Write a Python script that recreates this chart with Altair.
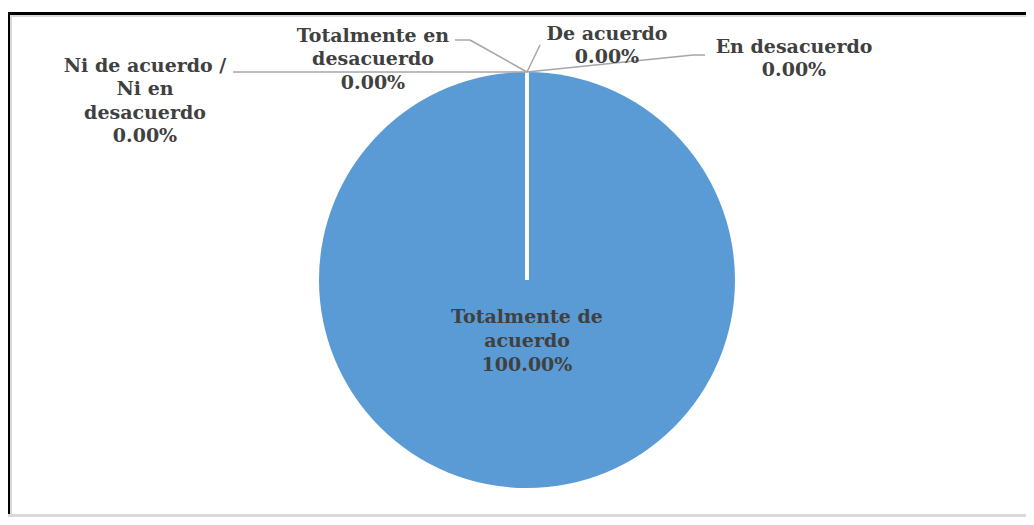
import altair as alt
import pandas as pd

# ---- data ----
categories = ["Totalmente de acuerdo", "De acuerdo", "En desacuerdo",
              "Totalmente en desacuerdo", "Ni de acuerdo / Ni en desacuerdo"]
values = [100.0, 0.0, 0.0, 0.0, 0.0]
# how each label is wrapped in the reference
label_wrap = {
    "Totalmente de acuerdo": "Totalmente de\nacuerdo",
    "De acuerdo": "De acuerdo",
    "En desacuerdo": "En desacuerdo",
    "Totalmente en desacuerdo": "Totalmente en\ndesacuerdo",
    "Ni de acuerdo / Ni en desacuerdo": "Ni de acuerdo /\nNi en\ndesacuerdo",
}

df = pd.DataFrame({"categoria": categories, "valor": values, "order": range(len(categories))})
df["wrap"] = [label_wrap[c] for c in categories]

# ---- layout (positions only) ----
W, H = 1018, 509
CX, CY, R = 519, 272, 208
label_pos = {
    "Totalmente de acuerdo": (519, 300),
    "De acuerdo": (599, 17),
    "En desacuerdo": (786, 30),
    "Totalmente en desacuerdo": (365, 19),
    "Ni de acuerdo / Ni en desacuerdo": (137, 49),
}
leaders = pd.DataFrame([
    (225, 64, 519, 64),
    (447, 32, 462, 32), (462, 32, 519, 64),
    (532, 37, 519, 64),
    (697, 47, 685, 47), (685, 47, 519, 64),
], columns=["x", "y", "x2", "y2"])
frame = pd.DataFrame([
    (0, W, 4, 7, "#000000"),
    (0, W, 7, 9, "#D9D9D9"),
    (0, 2, 4, H, "#000000"),
    (2, 4, 7, H, "#D9D9D9"),
    (0, W, H - 3, H, "#D9D9D9"),
], columns=["x", "x2", "y", "y2", "c"])

FONT = "DejaVu Serif"
TXT = "#404040"

pie = alt.Chart(df).mark_arc(radius=R, fill="#5B9BD5", stroke="white").encode(
    theta=alt.Theta("valor:Q", stack=True),
    order=alt.Order("order:Q"),
    strokeWidth=alt.condition("datum.valor == 0", alt.value(3), alt.value(0)),
    x=alt.value(CX), y=alt.value(CY),
)

rules = alt.Chart(leaders).mark_rule(color="#A6A6A6", strokeWidth=1.5).encode(
    x=alt.X("x:Q", scale=None), y=alt.Y("y:Q", scale=None),
    x2="x2:Q", y2="y2:Q",
)

frame_layer = alt.Chart(frame).mark_rect().encode(
    x=alt.X("x:Q", scale=None), x2="x2:Q",
    y=alt.Y("y:Q", scale=None), y2="y2:Q",
    color=alt.Color("c:N", scale=None),
)

texts = []
for cat, (lx, ly) in label_pos.items():
    lh = 24 if cat == "Totalmente de acuerdo" else 23.3
    t = alt.Chart(df).transform_filter(
        alt.datum.categoria == cat
    ).transform_calculate(
        lbl="datum.wrap + '\\n' + format(datum.valor / 100, '.2%')"
    ).mark_text(
        font=FONT, fontSize=19, fontWeight="bold", color=TXT,
        align="center", baseline="top", lineBreak="\n", lineHeight=lh,
    ).encode(text="lbl:N", x=alt.value(lx), y=alt.value(ly))
    texts.append(t)

chart = alt.layer(frame_layer, pie, rules, *texts).properties(
    width=W, height=H,
    autosize=alt.AutoSizeParams(type="fit", contains="padding"),
    padding=0,
).configure_view(stroke=None)

chart.save("out.html", embed_options={"renderer": "svg", "actions": False})
